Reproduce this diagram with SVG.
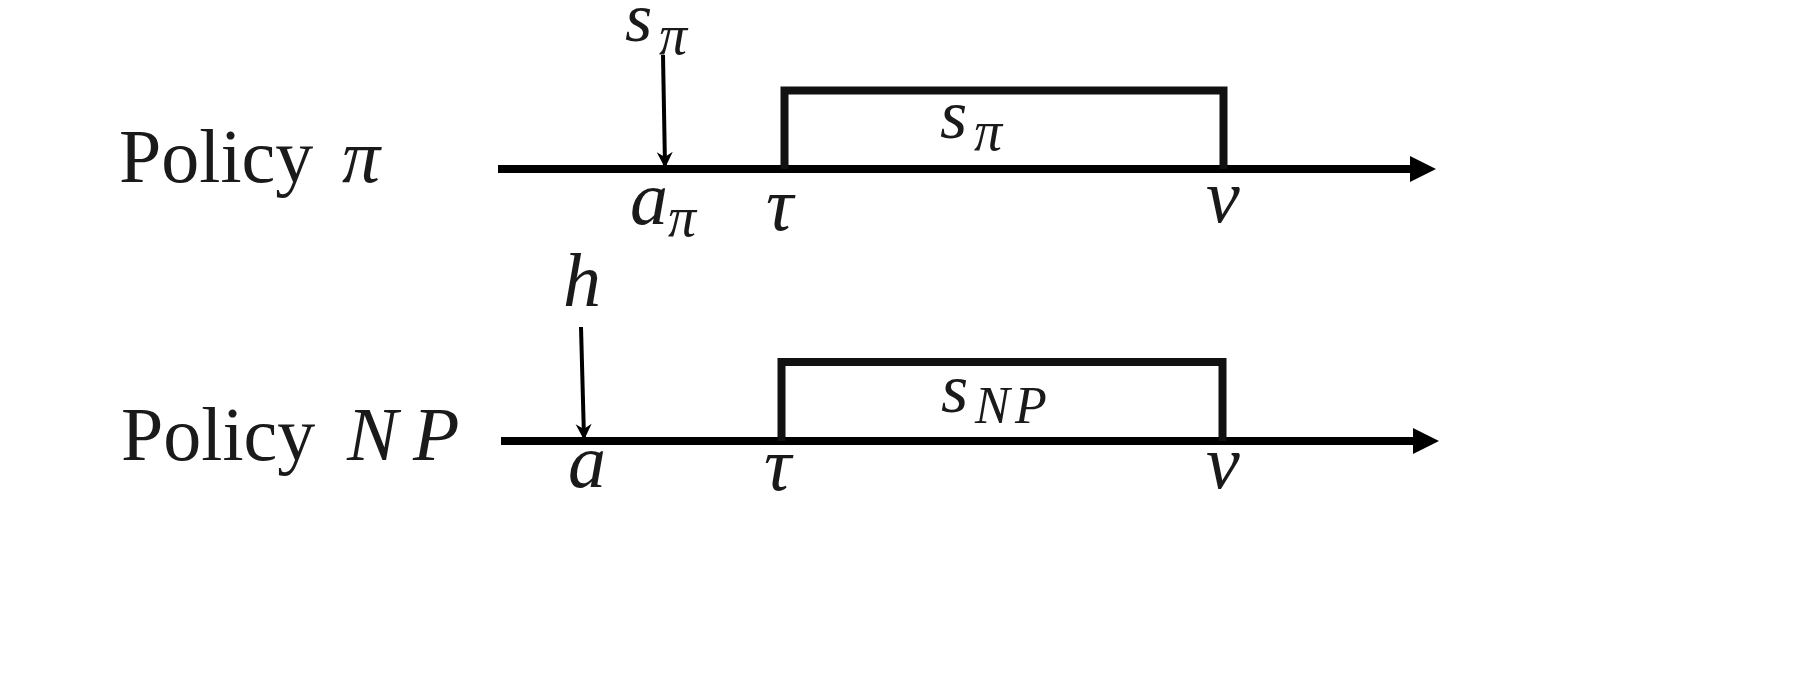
<svg xmlns="http://www.w3.org/2000/svg" width="1800" height="675" viewBox="0 0 1800 675">
<style>
.t{font-family:"Liberation Serif",serif;fill:#1a1a1a}
.m{font-family:"Liberation Serif",serif;font-style:italic;fill:#1a1a1a}
.big{font-size:76px}
.s{font-size:70px}
.sub{font-size:56px}
.axis{stroke:#000;stroke-width:8;fill:none}
.box{stroke:#111;stroke-width:8;fill:none}
.ptr{stroke:#000;stroke-width:4;fill:none}
</style>
<defs>
<marker id="ah" markerUnits="userSpaceOnUse" markerWidth="26" markerHeight="26" refX="2" refY="13" orient="auto" overflow="visible">
<path d="M0,0 L26,13 L0,26 z" fill="#000"/>
</marker>
<marker id="sh" markerUnits="userSpaceOnUse" markerWidth="16" markerHeight="16" refX="14" refY="8" orient="auto" overflow="visible">
<path d="M0,0 L16,8 L0,16 L5,8 z" fill="#000"/>
</marker>
</defs>
<rect width="1800" height="675" fill="#fff"/>
<g id="connectors">
<line class="axis" x1="498" y1="169" x2="1412" y2="169" marker-end="url(#ah)"/>
<line class="axis" x1="501" y1="441" x2="1415" y2="441" marker-end="url(#ah)"/>
<line class="ptr" x1="663" y1="55" x2="665" y2="166" marker-end="url(#sh)"/>
<line class="ptr" x1="581" y1="327" x2="584" y2="438" marker-end="url(#sh)"/>
</g>
<g id="label-policy-pi">
<text class="t big" x="119" y="182">Policy</text>
<text class="m big" x="342" y="182">π</text>
</g>
<g id="label-policy-np">
<text class="t big" x="121" y="460">Policy</text>
<text class="m big" x="347" y="460">N<tspan x="413">P</tspan></text>
</g>
<g id="box-pi">
<path class="box" d="M784.5,169 V90.5 H1223.5 V169"/>
<text class="m s" x="940" y="138">s</text><text class="m sub" x="974" y="150">π</text>
</g>
<g id="box-np">
<path class="box" d="M781.5,441 V362 H1222.5 V441"/>
<text class="m s" x="941" y="412">s</text><text class="m" x="975" y="423" font-size="52">N<tspan x="1015">P</tspan></text>
</g>
<g id="input-spi">
<text class="m s" x="625" y="41">s</text><text class="m sub" x="659" y="54">π</text>
</g>
<g id="input-h">
<text class="m big" x="563" y="306">h</text>
</g>
<g id="ticks-top">
<text class="m big" x="630" y="224">a</text><text class="m sub" x="668" y="236">π</text>
<text class="m big" x="766" y="230">τ</text>
<text class="m big" x="1206" y="222">ν</text>
</g>
<g id="ticks-bottom">
<text class="m big" x="568" y="487">a</text>
<text class="m big" x="764" y="490">τ</text>
<text class="m big" x="1206" y="488">ν</text>
</g>
</svg>
